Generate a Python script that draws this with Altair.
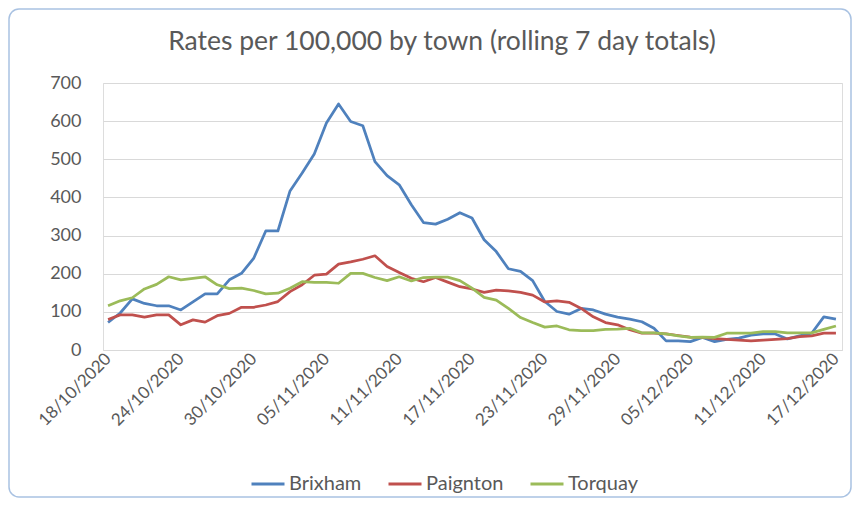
import altair as alt
import pandas as pd

start_date = "2020-10-18"
n_days = 61

brixham = [72, 97, 134, 122, 116, 116, 105, 126, 147, 147,
           184, 201, 240, 312, 312, 417, 464, 514, 595, 645,
           599, 588, 494, 457, 433, 381, 334, 330, 343, 360,
           346, 289, 258, 213, 206, 182, 127, 101, 94, 109,
           105, 94, 86, 81, 74, 57, 24, 24, 22, 33,
           22, 28, 31, 39, 42, 42, 29, 37, 44, 87, 81]
paignton = [80, 92, 92, 86, 92, 92, 66, 79, 73, 90,
            96, 112, 112, 118, 127, 153, 171, 196, 199, 225,
            231, 238, 247, 219, 203, 188, 179, 190, 178, 166,
            160, 151, 157, 155, 151, 144, 126, 129, 125, 109,
            87, 72, 66, 53, 44, 44, 42, 38, 34, 33,
            30, 28, 26, 24, 26, 28, 30, 35, 37, 44, 44]
torquay = [116, 129, 137, 160, 172, 192, 184, 188, 192, 171,
           161, 162, 156, 147, 149, 162, 179, 177, 177, 175,
           201, 201, 190, 182, 192, 181, 190, 191, 191, 182,
           162, 138, 131, 109, 85, 72, 60, 63, 53, 51,
           51, 54, 55, 57, 45, 45, 42, 37, 33, 34,
           33, 44, 44, 44, 48, 48, 45, 45, 45, 54, 63]

towns = ["Brixham", "Paignton", "Torquay"]
colors = ["#4F81BD", "#C0504D", "#9BBB59"]
tick_labels = ["18/10/2020", "24/10/2020", "30/10/2020", "05/11/2020",
               "11/11/2020", "17/11/2020", "23/11/2020", "29/11/2020",
               "05/12/2020", "11/12/2020", "17/12/2020"]
y_ticks = [0, 100, 200, 300, 400, 500, 600, 700]
title_text = "Rates per 100,000 by town (rolling 7 day totals)"

dates = pd.date_range(start_date, periods=n_days, freq="D")
rows = []
for town, vals in zip(towns, [brixham, paignton, torquay]):
    for d, v in zip(dates, vals):
        rows.append({"date": d.strftime("%Y-%m-%d"), "town": town, "rate": v})
df = pd.DataFrame(rows)


def to_ms(ts):
    return int(pd.Timestamp(ts, tz="UTC").value // 10**6)


tick_values = [to_ms(pd.to_datetime(t, format="%d/%m/%Y")) for t in tick_labels]
x_domain = [to_ms("2020-10-17T14:00:00"), to_ms("2020-12-17T12:00:00")]

TEXT = "#595959"

lines = alt.Chart(df).mark_line(strokeWidth=2.75, strokeJoin="round").encode(
    x=alt.X("date:T",
            scale=alt.Scale(type="utc", domain=x_domain, nice=False),
            axis=alt.Axis(values=tick_values, title=None,
                          labelExpr="utcFormat(datum.value, '%d/%m/%Y')",
                          labelAngle=-45, labelAlign="right", labelBaseline="middle",
                          labelPadding=6, ticks=False, grid=False,
                          domainColor="#d9d9d9", labelColor=TEXT, labelFontSize=17,
                          labelFont="Lato", labelOverlap=False)),
    y=alt.Y("rate:Q",
            scale=alt.Scale(domain=[0, 700], nice=False),
            axis=alt.Axis(values=y_ticks, title=None, ticks=False, domain=False,
                          labelPadding=22, gridColor="#d9d9d9", gridWidth=1,
                          labelColor=TEXT, labelFontSize=18, labelFont="Lato")),
    color=alt.Color("town:N",
                    scale=alt.Scale(domain=towns, range=colors),
                    legend=alt.Legend(title=None, orient="none", direction="horizontal",
                                      legendX=147, legendY=383,
                                      symbolType="stroke", symbolSize=1089,
                                      symbolStrokeWidth=3, labelFontSize=20,
                                      labelFont="Lato", labelColor=TEXT,
                                      labelOffset=3, columnPadding=20)),
)

frame = alt.Chart(alt.Data(values=[{}])).mark_rect(
    fill=None, stroke="#a9c2e2", strokeWidth=1.5, cornerRadius=10
).encode(
    x=alt.value(-94), x2=alt.value(748), y=alt.value(-74), y2=alt.value(414)
)

title = alt.Chart(alt.Data(values=[{}])).mark_text(
    font="Lato", fontSize=26.5, color=TEXT, align="center", baseline="middle"
).encode(
    x=alt.value(339), y=alt.value(-41), text=alt.value(title_text)
)

chart = alt.layer(frame, title, lines).properties(
    width=739, height=267,
    autosize=alt.AutoSizeParams(type="none"),
    padding={"left": 95, "top": 75, "right": 13, "bottom": 148},
).configure_view(stroke=None).configure(background="white")

chart.save("out.html", embed_options={"renderer": "svg", "actions": False})
